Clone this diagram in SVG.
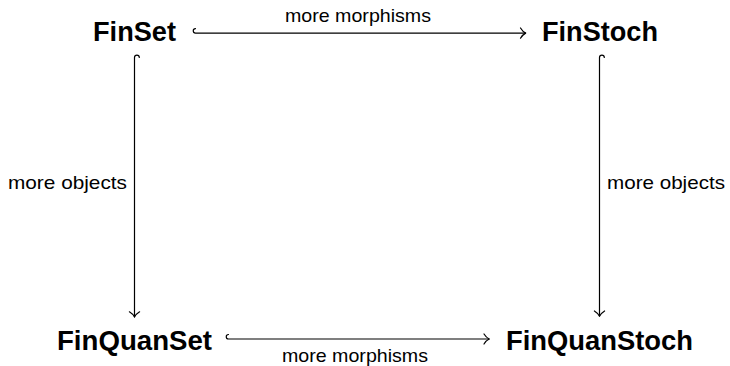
<svg xmlns="http://www.w3.org/2000/svg" width="730" height="366" viewBox="0 0 730 366">
<style>
.obj{font-family:"Liberation Sans",Arial,sans-serif;font-weight:bold;font-size:27px;fill:#000}
.lbl{font-family:"Liberation Sans",Arial,sans-serif;font-size:19px;fill:#000}
.ln{fill:none;stroke:#000;stroke-width:1.2;stroke-linecap:round;stroke-linejoin:round}
</style>
<rect width="730" height="366" fill="#fff"/>
<g id="FinSet"><text class="obj" x="93" y="41" textLength="83" lengthAdjust="spacingAndGlyphs">FinSet</text></g>
<g id="FinStoch"><text class="obj" x="542" y="41" textLength="116" lengthAdjust="spacingAndGlyphs">FinStoch</text></g>
<g id="FinQuanSet"><text class="obj" x="57" y="350" textLength="155" lengthAdjust="spacingAndGlyphs">FinQuanSet</text></g>
<g id="FinQuanStoch"><text class="obj" x="506" y="350" textLength="187" lengthAdjust="spacingAndGlyphs">FinQuanStoch</text></g>
<g id="connectors">
  <path class="ln" d="M195.5 28.6 A2.25 2.25 0 0 0 195.5 33.1 L525.5 33.1"/>
  <path class="ln" d="M520.5 28 C522 30.5 524 32.3 525.7 33.1 C524 33.9 522 35.7 520.5 38.2"/>
  <text class="lbl" x="358" y="22" text-anchor="middle" textLength="146" lengthAdjust="spacingAndGlyphs">more morphisms</text>

  <path class="ln" d="M228.5 334.5 A2.25 2.25 0 0 0 228.5 339 L489 339"/>
  <path class="ln" d="M484 334 C485.5 336.4 487.5 338.2 489.2 339 C487.5 339.8 485.5 341.6 484 344"/>
  <text class="lbl" x="355" y="362" text-anchor="middle" textLength="146" lengthAdjust="spacingAndGlyphs">more morphisms</text>

  <path class="ln" d="M139.3 57.5 A2.4 2.4 0 0 0 134.5 57.5 L134.5 316.8"/>
  <path class="ln" d="M129.4 311.8 C131.8 313.3 133.6 315.2 134.5 317 C135.4 315.2 137.2 313.3 139.6 311.8"/>
  <text class="lbl" x="8" y="189" textLength="119" lengthAdjust="spacingAndGlyphs">more objects</text>

  <path class="ln" d="M604.3 57.5 A2.4 2.4 0 0 0 599.5 57.5 L599.5 316"/>
  <path class="ln" d="M594.4 311 C596.8 312.5 598.6 314.4 599.5 316.2 C600.4 314.4 602.2 312.5 604.6 311"/>
  <text class="lbl" x="607" y="189" textLength="118" lengthAdjust="spacingAndGlyphs">more objects</text>
</g>
</svg>
